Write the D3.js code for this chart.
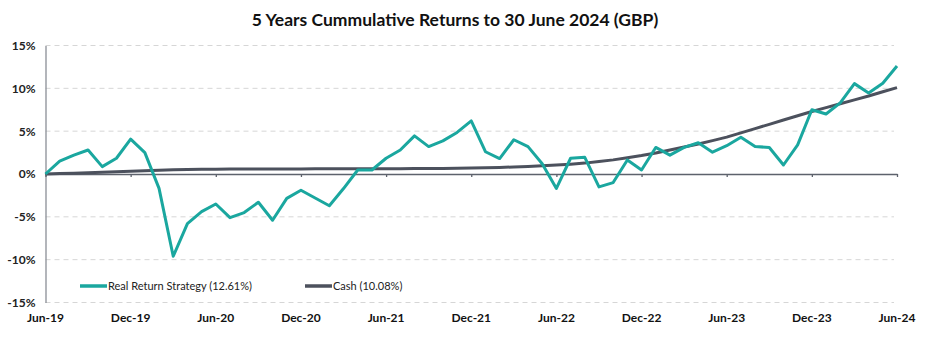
<!DOCTYPE html>
<html><head><meta charset="utf-8">
<script src="https://cdn.jsdelivr.net/npm/d3@7"></script>
<style>body{margin:0;background:#fff}svg{display:block}</style>
</head><body><svg id="c" width="929" height="359"></svg>
<script>
const months = d3.range(61); // Jun-19 .. Jun-24 monthly
const tickLabels = ["Jun-19","Dec-19","Jun-20","Dec-20","Jun-21","Dec-21","Jun-22","Dec-22","Jun-23","Dec-23","Jun-24"];
const yTicks = [-15,-10,-5,0,5,10,15];
const realReturn = [0,1.5,2.2,2.8,0.86,1.84,4.07,2.5,-1.68,-9.6,-5.8,-4.4,-3.5,-5.1,-4.5,-3.3,-5.4,-2.85,-1.9,-2.8,-3.7,-1.7,0.47,0.47,1.84,2.8,4.45,3.2,3.87,4.85,6.2,2.6,1.8,4.0,3.2,1.2,-1.68,1.84,1.95,-1.5,-1.0,1.64,0.47,3.1,2.2,3.1,3.65,2.55,3.3,4.3,3.2,3.1,1.05,3.4,7.5,7.0,8.3,10.55,9.46,10.6,12.61];
const cash = [0,0.05,0.1,0.15,0.2,0.26,0.32,0.38,0.44,0.5,0.53,0.55,0.56,0.57,0.57,0.58,0.58,0.59,0.59,0.6,0.6,0.6,0.61,0.61,0.62,0.62,0.63,0.63,0.64,0.66,0.7,0.73,0.77,0.82,0.88,0.96,1.05,1.15,1.27,1.45,1.65,1.9,2.15,2.45,2.8,3.15,3.5,3.9,4.3,4.8,5.3,5.8,6.3,6.8,7.3,7.75,8.2,8.65,9.1,9.6,10.08];
const seriesNames = ["Real Return Strategy (12.61%)","Cash (10.08%)"];
const colors = ["#1aa79f","#4c515d"];
const title = "5 Years Cummulative Returns to 30 June 2024 (GBP)";

const svg = d3.select("#c");
const font = "Lato, 'Open Sans', sans-serif";
const x = d3.scaleLinear().domain([0,60]).range([45.5,897]);
const y = d3.scaleLinear().domain([-15,15]).range([302.5,45.5]);

svg.append("text").attr("x",455).attr("y",26).attr("text-anchor","middle")
  .attr("font-family",font).attr("font-weight",700).attr("font-size",17.5).attr("fill","#111").text(title);

// gridlines
svg.append("g").selectAll("line").data(yTicks.filter(d=>d!==0)).join("line")
  .attr("x1",x(0)).attr("x2",894).attr("y1",d=>y(d)).attr("y2",d=>y(d))
  .attr("stroke","#d6d6d6").attr("stroke-width",1).attr("stroke-dasharray","5,4");

// y axis
const yAxis = d3.axisLeft(y).tickValues(yTicks).tickFormat(d=>d+"%").tickSize(0).tickPadding(10);
const gy = svg.append("g").attr("transform",`translate(${x(0)},0)`).call(yAxis);
gy.select(".domain").attr("stroke","#8a8e96").attr("stroke-width",1.3);
gy.selectAll("text").attr("font-family",font).attr("font-weight",700).attr("font-size",12).attr("fill","#222");

// x axis at zero
const xAxis = d3.axisBottom(x).tickValues(d3.range(0,61,6)).tickFormat("").tickSizeInner(3).tickSizeOuter(0);
const gx = svg.append("g").attr("transform",`translate(0,${y(0)})`).call(xAxis);
gx.select(".domain").attr("stroke","#5d626c").attr("stroke-width",1.5);
gx.selectAll(".tick line").attr("stroke","#5d626c").attr("stroke-width",1.3);

// x labels at bottom
svg.append("g").selectAll("text").data(tickLabels).join("text")
  .attr("x",(d,i)=>x(i*6)).attr("y",322).attr("text-anchor","middle")
  .attr("font-family",font).attr("font-weight",700).attr("font-size",12).attr("fill","#111").text(d=>d);

const line = d3.line().x((d,i)=>x(months[i])).y(d=>y(d));
svg.append("path").datum(cash).attr("d",line).attr("fill","none").attr("stroke",colors[1]).attr("stroke-width",3).attr("stroke-linejoin","round");
svg.append("path").datum(realReturn).attr("d",line).attr("fill","none").attr("stroke",colors[0]).attr("stroke-width",3).attr("stroke-linejoin","round");

// legend
const legX = [80,305];
const lg = svg.append("g").selectAll("g").data(seriesNames).join("g").attr("transform",(d,i)=>`translate(${legX[i]},286)`);
lg.append("line").attr("x1",0).attr("x2",27).attr("stroke",(d,i)=>colors[i]).attr("stroke-width",3.5);
lg.append("text").attr("x",28).attr("y",4).attr("font-family",font).attr("font-size",11).attr("fill","#222").text(d=>d);
</script></body></html>
